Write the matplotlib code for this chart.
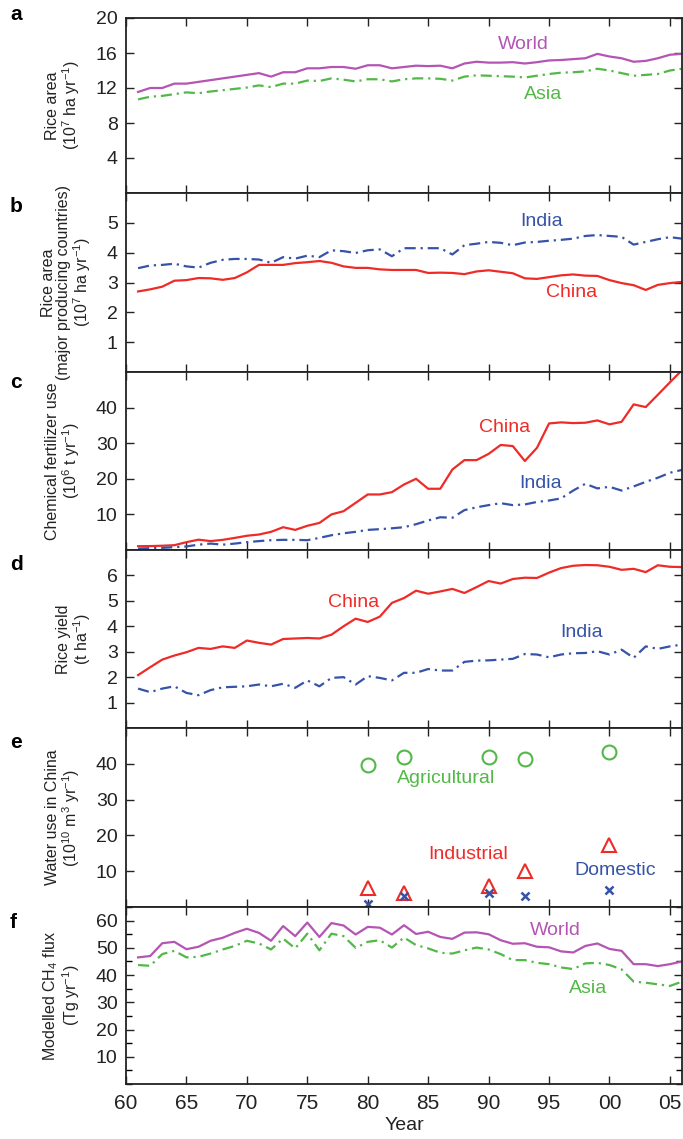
import matplotlib.pyplot as plt
from matplotlib.ticker import MultipleLocator

plt.rcParams['font.family'] = ['Liberation Sans Narrow', 'Liberation Sans', 'DejaVu Sans']
plt.rcParams['mathtext.default'] = 'regular'

# --- dados ---
anos = list(range(1961, 2007))

area_mundo = [11.55, 12.0, 12.0, 12.5, 12.5, 12.7, 12.9, 13.1, 13.3, 13.5,
              13.7, 13.3, 13.8, 13.8, 14.25, 14.25, 14.4, 14.4, 14.2, 14.6,
              14.6, 14.25, 14.4, 14.55, 14.5, 14.55, 14.25, 14.8, 15.0, 14.9,
              14.9, 14.95, 14.8, 14.95, 15.15, 15.2, 15.3, 15.4, 15.9, 15.6,
              15.4, 15.0, 15.1, 15.4, 15.8, 15.9]
area_asia = [10.7, 11.0, 11.1, 11.3, 11.5, 11.4, 11.6, 11.75, 11.9, 12.05,
             12.3, 12.1, 12.5, 12.5, 12.85, 12.8, 13.1, 12.95, 12.75, 13.0,
             13.0, 12.75, 13.0, 13.1, 13.1, 13.05, 12.85, 13.3, 13.45, 13.4,
             13.35, 13.3, 13.2, 13.4, 13.6, 13.75, 13.8, 13.9, 14.2, 14.0,
             13.7, 13.4, 13.5, 13.6, 14.0, 14.2]

area_india = [3.48, 3.57, 3.59, 3.63, 3.54, 3.5, 3.66, 3.76, 3.79, 3.79,
              3.77, 3.66, 3.85, 3.8, 3.9, 3.85, 4.08, 4.05, 3.99, 4.08,
              4.11, 3.88, 4.15, 4.15, 4.15, 4.15, 3.94, 4.25, 4.3, 4.36,
              4.33, 4.25, 4.34, 4.36, 4.4, 4.43, 4.47, 4.56, 4.59, 4.56,
              4.53, 4.27, 4.36, 4.45, 4.52, 4.47]
area_china = [2.7, 2.77, 2.86, 3.06, 3.08, 3.15, 3.14, 3.09, 3.15, 3.34,
              3.59, 3.59, 3.59, 3.65, 3.68, 3.72, 3.66, 3.54, 3.49, 3.49,
              3.44, 3.42, 3.42, 3.42, 3.32, 3.33, 3.32, 3.28, 3.37, 3.41,
              3.36, 3.31, 3.14, 3.12, 3.18, 3.24, 3.27, 3.23, 3.22, 3.08,
              2.98, 2.91, 2.75, 2.92, 2.98, 3.02]

fert_china = [1.07, 1.1, 1.2, 1.35, 2.2, 2.9, 2.5, 2.85, 3.4, 4.0,
              4.35, 5.1, 6.4, 5.65, 6.8, 7.6, 10.0, 10.9, 13.25, 15.6,
              15.6, 16.25, 18.4, 20.0, 17.2, 17.2, 22.6, 25.25, 25.25, 27.0,
              29.5, 29.2, 25.0, 28.7, 35.55, 35.85, 35.65, 35.75, 36.4, 35.3,
              36.0, 40.9, 40.15, 43.6, 47.1, 50.5]
fert_india = [0.4, 0.5, 0.6, 0.8, 1.0, 1.5, 1.8, 1.5, 1.8, 2.2,
              2.5, 2.75, 2.85, 2.85, 2.75, 3.4, 4.15, 4.7, 5.1, 5.65,
              5.85, 6.1, 6.4, 7.25, 8.3, 9.2, 9.05, 11.2, 12.0, 12.6,
              13.15, 12.6, 12.8, 13.5, 13.9, 14.5, 16.7, 18.6, 17.3, 17.75,
              16.7, 17.85, 19.15, 20.3, 21.7, 22.5]

prod_china = [2.08, 2.39, 2.69, 2.85, 2.98, 3.15, 3.11, 3.21, 3.15, 3.44,
              3.35, 3.28, 3.5, 3.52, 3.54, 3.52, 3.67, 4.0, 4.3, 4.17,
              4.38, 4.92, 5.11, 5.4, 5.28, 5.37, 5.47, 5.31, 5.54, 5.78,
              5.68, 5.86, 5.91, 5.9, 6.11, 6.29, 6.38, 6.41, 6.4, 6.34,
              6.22, 6.26, 6.13, 6.4, 6.34, 6.33]
prod_india = [1.55, 1.41, 1.55, 1.64, 1.38, 1.29, 1.49, 1.6, 1.62, 1.64,
              1.71, 1.64, 1.74, 1.58, 1.87, 1.64, 1.97, 2.0, 1.71, 2.04,
              1.97, 1.87, 2.17, 2.17, 2.32, 2.26, 2.26, 2.6, 2.65, 2.66,
              2.69, 2.72, 2.91, 2.89, 2.78, 2.89, 2.94, 2.95, 3.02, 2.89,
              3.08, 2.76, 3.21, 3.11, 3.21, 3.28]

anos_agua = [1980, 1983, 1990, 1993, 2000]
agua_agricola = [39.6, 41.9, 42.0, 41.3, 43.2]
agua_industrial = [5.2, 4.0, 5.9, 10.0, 17.2]
agua_domestica = [0.9, 3.1, 3.8, 3.1, 4.7]

ch4_mundo = [46.5, 47.0, 51.7, 52.2, 49.5, 50.4, 52.6, 53.7, 55.5, 57.0,
             55.5, 52.6, 58.0, 54.3, 59.3, 54.0, 59.1, 58.2, 54.9, 57.7,
             57.4, 54.9, 58.3, 55.1, 55.9, 54.0, 53.3, 55.6, 55.7, 55.0,
             52.8, 51.5, 51.7, 50.4, 50.2, 48.7, 48.3, 50.7, 51.6, 49.6,
             48.9, 44.0, 44.0, 43.3, 44.0, 45.0]
ch4_asia = [43.7, 43.4, 47.7, 48.9, 46.5, 46.7, 47.9, 49.4, 50.7, 52.6,
            51.6, 49.4, 53.4, 49.8, 55.2, 49.1, 55.2, 54.3, 50.0, 52.2,
            52.8, 50.1, 53.8, 51.0, 49.8, 48.2, 47.9, 49.1, 50.1, 49.4,
            47.7, 45.5, 45.5, 44.5, 44.0, 42.8, 42.2, 44.3, 44.5, 43.7,
            42.1, 37.6, 37.2, 36.6, 36.0, 37.6]

anos_ticks = [1960, 1965, 1970, 1975, 1980, 1985, 1990, 1995, 2000, 2005]
rotulos_ticks = ['60', '65', '70', '75', '80', '85', '90', '95', '00', '05']

# cores
ROXO = '#b455b4'
VERDE = '#52b847'
AZUL = '#3553a8'
VERMELHO = '#ee2b27'
TRACO_PONTO = [5, 2.2, 1, 2.2]

fig = plt.figure(figsize=(6.83, 11.39), dpi=100)
H = 1139.0
esq, dir_ = 126 / 683, 682 / 683
limites = [(18, 193), (193, 372), (372, 550), (550, 728), (728, 907), (907, 1084)]

eixos = []
for topo, base in limites:
    ax = fig.add_axes([esq, 1 - base / H, dir_ - esq, (base - topo) / H])
    ax.set_xlim(1960, 2006)
    ax.set_xticks(anos_ticks)
    ax.tick_params(direction='in', top=True, right=True, length=6, width=1,
                   labelsize=14, colors='#222222', pad=6)
    ax.tick_params(axis='x', labelbottom=False)
    for s in ax.spines.values():
        s.set_linewidth(1.3)
        s.set_color('#222222')
    eixos.append(ax)

ax_a, ax_b, ax_c, ax_d, ax_e, ax_f = eixos

def legenda(ax, x, y, txt, cor):
    ax.text(x, y, txt, color=cor, fontsize=14, ha='center', va='center')

def ylabel(ax, txt):
    ax.set_ylabel(txt, fontsize=11.5, color='#222222', labelpad=10, linespacing=1.0)

# a
ax_a.plot(anos, area_mundo, color=ROXO, lw=1.6)
ax_a.plot(anos, area_asia, color=VERDE, lw=1.6, dashes=TRACO_PONTO)
ax_a.set_ylim(0, 20)
ax_a.set_yticks([4, 8, 12, 16, 20])
legenda(ax_a, 1992.9, 17.0, 'World', ROXO)
legenda(ax_a, 1994.5, 11.3, 'Asia', VERDE)
ylabel(ax_a, 'Rice area\n(10$^7$ ha yr$^{−1}$)')

# b
ax_b.plot(anos, area_india, color=AZUL, lw=1.6, dashes=TRACO_PONTO)
ax_b.plot(anos, area_china, color=VERMELHO, lw=1.6)
ax_b.set_ylim(0, 6)
ax_b.set_yticks([1, 2, 3, 4, 5])
legenda(ax_b, 1994.4, 5.05, 'India', AZUL)
legenda(ax_b, 1996.9, 2.65, 'China', VERMELHO)
ylabel(ax_b, 'Rice area\n(major producing countries)\n(10$^7$ ha yr$^{−1}$)')

# c
ax_c.plot(anos, fert_china, color=VERMELHO, lw=1.6)
ax_c.plot(anos, fert_india, color=AZUL, lw=1.6, dashes=TRACO_PONTO)
ax_c.set_ylim(0, 50)
ax_c.set_yticks([10, 20, 30, 40])
legenda(ax_c, 1991.3, 34.3, 'China', VERMELHO)
legenda(ax_c, 1994.3, 18.7, 'India', AZUL)
ylabel(ax_c, 'Chemical fertilizer use\n(10$^6$ t yr$^{−1}$)')

# d
ax_d.plot(anos, prod_china, color=VERMELHO, lw=1.6)
ax_d.plot(anos, prod_india, color=AZUL, lw=1.6, dashes=TRACO_PONTO)
ax_d.set_ylim(0, 7)
ax_d.set_yticks([1, 2, 3, 4, 5, 6])
legenda(ax_d, 1978.8, 4.95, 'China', VERMELHO)
legenda(ax_d, 1997.7, 3.75, 'India', AZUL)
ylabel(ax_d, 'Rice yield\n(t ha$^{−1}$)')

# e
ax_e.plot(anos_agua, agua_agricola, 'o', mfc='none', mec=VERDE, mew=1.5, ms=10)
ax_e.plot(anos_agua, agua_industrial, '^', mfc='none', mec=VERMELHO, mew=1.5, ms=10)
ax_e.plot(anos_agua, agua_domestica, 'x', color=AZUL, mew=1.8, ms=6, clip_on=False)
ax_e.set_ylim(0, 50)
ax_e.set_yticks([10, 20, 30, 40])
legenda(ax_e, 1986.5, 36.0, 'Agricultural', VERDE)
legenda(ax_e, 1988.3, 14.8, 'Industrial', VERMELHO)
legenda(ax_e, 2000.5, 10.1, 'Domestic', AZUL)
ylabel(ax_e, 'Water use in China\n(10$^{10}$ m$^3$ yr$^{−1}$)')

# f
ax_f.plot(anos, ch4_mundo, color=ROXO, lw=1.6)
ax_f.plot(anos, ch4_asia, color=VERDE, lw=1.6, dashes=TRACO_PONTO)
ax_f.set_ylim(0, 65)
ax_f.set_yticks([10, 20, 30, 40, 50, 60])
ax_f.yaxis.set_minor_locator(MultipleLocator(5))
ax_f.tick_params(which='minor', direction='in', right=True, length=4, width=1)
legenda(ax_f, 1995.5, 56.2, 'World', ROXO)
legenda(ax_f, 1998.2, 35.1, 'Asia', VERDE)
ylabel(ax_f, 'Modelled CH$_4$ flux\n(Tg yr$^{−1}$)')
ax_f.tick_params(axis='x', labelbottom=True, labelsize=15, pad=7)
ax_f.set_xticklabels(rotulos_ticks)
ax_f.set_xlabel('Year', fontsize=14, color='#222222', labelpad=3)

# letras dos paineis
for letra, y in zip('abcdef', [15, 207, 383, 564, 743, 922]):
    fig.text(10 / 683, 1 - y / H, letra, fontsize=15, fontweight='bold',
             family='Liberation Sans', va='center', ha='left')

fig.align_ylabels(eixos)
plt.savefig('out.png', dpi=100)
plt.close()
